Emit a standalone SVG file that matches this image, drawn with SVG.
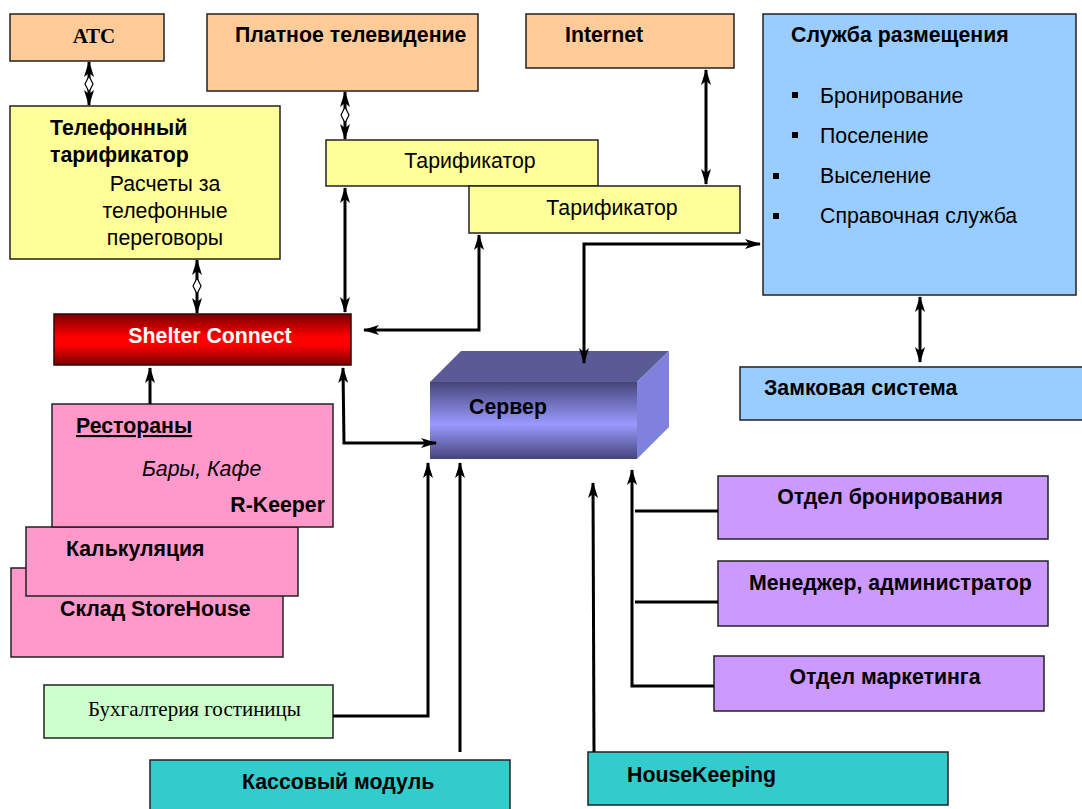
<svg xmlns="http://www.w3.org/2000/svg" width="1082" height="809" viewBox="0 0 1082 809">
<defs>
<marker id="ah" viewBox="0 0 16 10" refX="15" refY="5" markerWidth="16" markerHeight="10" markerUnits="userSpaceOnUse" orient="auto-start-reverse">
<path d="M0,0 L16,5 L0,10 L4,5 z" fill="#000"/>
</marker>
<linearGradient id="gRed" x1="0" y1="0" x2="0" y2="1">
<stop offset="0" stop-color="#7a0000"/>
<stop offset="0.45" stop-color="#ff0000"/>
<stop offset="0.6" stop-color="#ff0000"/>
<stop offset="1" stop-color="#7a0000"/>
</linearGradient>
<linearGradient id="gSrv" x1="0" y1="0" x2="0" y2="1">
<stop offset="0" stop-color="#45457a"/>
<stop offset="0.55" stop-color="#9a9aff"/>
<stop offset="1" stop-color="#45457a"/>
</linearGradient>
</defs>
<style>
.box{stroke:#222;stroke-width:1.5}
.or{fill:#ffcc99}
.ye{fill:#ffff99}
.bl{fill:#99ccff}
.pk{fill:#ff99cc}
.pu{fill:#cc99ff}
.te{fill:#33cccc}
.gr{fill:#ccffcc}
.b{font-family:"Liberation Sans",Arial,sans-serif;font-weight:bold;font-size:21.3px;fill:#000}
.r{font-family:"Liberation Sans",Arial,sans-serif;font-size:21.3px;fill:#000}
.s{font-family:"Liberation Serif","Times New Roman",serif;font-size:21px;fill:#000}
.ln{fill:none;stroke:#000;stroke-width:3}
.ar{fill:none;stroke:#000;stroke-width:3;marker-end:url(#ah)}
.ar2{fill:none;stroke:#000;stroke-width:3;marker-end:url(#ah);marker-start:url(#ah)}
</style>
<rect width="1082" height="809" fill="#fff"/>

<g id="atc"><rect class="box or" x="10" y="14" width="154" height="47"/><text class="s" x="94" y="43" text-anchor="middle" font-weight="bold" font-size="24">АТС</text></g>
<g id="paytv"><rect class="box or" x="207" y="14" width="271" height="77"/><text class="b" x="235" y="42">Платное телевидение</text></g>
<g id="internet"><rect class="box or" x="526" y="14" width="208" height="54"/><text class="b" x="565" y="42">Internet</text></g>
<g id="accom"><rect class="box bl" x="763" y="14" width="313" height="281"/>
<text class="b" x="791" y="42">Служба размещения</text>
<rect x="792" y="92" width="6" height="6" fill="#000"/><text class="r" x="820" y="103">Бронирование</text>
<rect x="792" y="132" width="6" height="6" fill="#000"/><text class="r" x="820" y="143">Поселение</text>
<rect x="773" y="173" width="6" height="6" fill="#000"/><text class="r" x="820" y="183">Выселение</text>
<rect x="773" y="213" width="6" height="6" fill="#000"/><text class="r" x="820" y="223">Справочная служба</text>
</g>
<g id="locks"><rect class="box bl" x="740" y="367" width="346" height="53"/><text class="b" x="764" y="395">Замковая система</text></g>
<g id="teltar"><rect class="box ye" x="10" y="106" width="270" height="153"/>
<text class="b" x="50" y="135" font-size="22">Телефонный</text>
<text class="b" x="50" y="162" font-size="22">тарификатор</text>
<text class="r" x="165" y="191" text-anchor="middle">Расчеты за</text>
<text class="r" x="165" y="218" text-anchor="middle">телефонные</text>
<text class="r" x="165" y="245" text-anchor="middle">переговоры</text>
</g>
<g id="tar1"><rect class="box ye" x="326" y="140" width="272" height="46"/><text class="r" x="470" y="168" text-anchor="middle">Тарификатор</text></g>
<g id="tar2"><rect class="box ye" x="469" y="186" width="271" height="47"/><text class="r" x="612" y="215" text-anchor="middle">Тарификатор</text></g>
<g id="shelter"><rect x="54" y="314" width="297" height="51" fill="url(#gRed)" stroke="#300" stroke-width="1.5"/><text class="b" x="210" y="343" text-anchor="middle" style="fill:#fff">Shelter Connect</text></g>
<g id="sklad"><rect class="box pk" x="11" y="568" width="272" height="89"/><text class="b" x="60" y="616">Склад StoreHouse</text></g>
<g id="kalk"><rect class="box pk" x="26" y="527" width="272" height="69"/><text class="b" x="66" y="556">Калькуляция</text></g>
<g id="rest"><rect class="box pk" x="52" y="404" width="281" height="123"/>
<text class="b" x="76" y="433" text-decoration="underline">Рестораны</text>
<text class="r" x="142" y="476" font-style="italic" font-size="20">Бары, Кафе</text>
<text class="b" x="325" y="512" text-anchor="end">R-Keeper</text>
</g>
<g id="buh"><rect class="box gr" x="44" y="685" width="289" height="53" stroke="#555"/><text class="s" x="88" y="716">Бухгалтерия гостиницы</text></g>
<g id="kassa"><rect class="box te" x="150" y="760" width="360" height="52"/><text class="b" x="242" y="789">Кассовый модуль</text></g>
<g id="hk"><rect class="box te" x="588" y="752" width="360" height="53"/><text class="b" x="627" y="782">HouseKeeping</text></g>
<g id="server">
<polygon points="430,382 461,351 669,351 637,382" fill="#5a5a96"/>
<polygon points="637,382 669,351 669,427 637,459" fill="#8080dd"/>
<rect x="430" y="382" width="207" height="77" fill="url(#gSrv)"/>
<text class="b" x="469" y="414" font-size="22">Сервер</text>
</g>
<g id="bron"><rect class="box pu" x="718" y="476" width="330" height="63"/><text class="b" x="890" y="504" text-anchor="middle">Отдел бронирования</text></g>
<g id="manager"><rect class="box pu" x="718" y="561" width="330" height="65"/><text class="b" x="749" y="590">Менеджер, администратор</text></g>
<g id="market"><rect class="box pu" x="714" y="656" width="330" height="55"/><text class="b" x="885" y="684" text-anchor="middle">Отдел маркетинга</text></g>

<g id="connectors">
<line class="ar2" x1="89" y1="62" x2="89" y2="105"/>
<path d="M89,76 L93,84 L89,92 L85,84 z" fill="#fff" stroke="#000" stroke-width="1.2"/>
<line class="ar2" x1="197" y1="260" x2="197" y2="313"/>
<path d="M197,278 L201,286 L197,294 L193,286 z" fill="#fff" stroke="#000" stroke-width="1.2"/>
<line class="ar2" x1="345" y1="92" x2="345" y2="139"/>
<path d="M345,107 L349,115 L345,123 L341,115 z" fill="#fff" stroke="#000" stroke-width="1.2"/>
<line class="ar2" x1="345" y1="188" x2="345" y2="312"/>
<line class="ar2" x1="706" y1="70" x2="706" y2="184"/>
<line class="ar2" x1="920" y1="297" x2="920" y2="362"/>
<polyline class="ar2" points="479,235 479,330 364,330"/>
<polyline class="ar2" points="760,244 584,244 584,363"/>
<polyline class="ar2" points="343,368 344,443 436,443"/>
<line class="ar" x1="150" y1="404" x2="150" y2="368"/>
<polyline class="ar" points="333,716 428,716 428,463"/>
<line class="ar" x1="460" y1="752" x2="460" y2="463"/>
<line class="ar" x1="594" y1="752" x2="593" y2="483"/>
<polyline class="ar" points="714,686 632,686 632,470"/>
<line class="ln" x1="635" y1="511" x2="718" y2="511"/>
<line class="ln" x1="635" y1="602" x2="718" y2="602"/>
</g>
</svg>
